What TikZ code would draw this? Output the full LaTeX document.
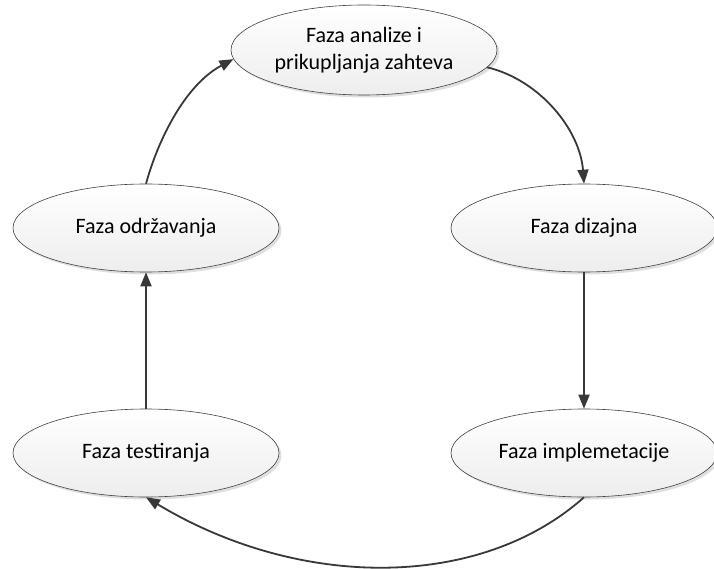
\documentclass[tikz,border=0pt]{standalone}
\usepackage{fontspec}
\setmainfont{Carlito}
\usetikzlibrary{shapes.geometric,shadows,arrows.meta}
\begin{document}
\begin{tikzpicture}[x=1pt,y=-1pt,
  phase/.style={ellipse, draw=black!75, line width=0.6pt, minimum width=266pt, minimum height=88pt,
    inner sep=0pt, top color=white, bottom color=black!7,
    drop shadow={shadow xshift=2.5pt, shadow yshift=-2.5pt, fill=black!25, opacity=0.5},
    font=\fontsize{22}{27}\selectfont, align=center},
  flow/.style={draw=black!78, line width=1.8pt, -{Triangle[length=14pt,width=11pt]}}]
\clip (0,0) rectangle (714,569);
\node[phase, minimum height=90pt] (an) at (364,50) {Faza analize i\\prikupljanja zahteva};
\node[phase] (od) at (146,228) {Faza održavanja};
\node[phase] (di) at (584,228) {Faza dizajna};
\node[phase] (te) at (146,453) {Faza testiranja};
\node[phase] (im) at (584,453) {Faza implemetacije};
\draw[flow] (od.north) .. controls (158,140) and (185,85) .. (an.184);
\draw[flow] (an.-8) .. controls (540,80) and (580,130) .. (di.north);
\draw[flow] (di.south) -- (im.north);
\draw[flow] (im.south) .. controls (480,590) and (300,590) .. (te.south);
\draw[flow] (te.north) -- (od.south);
\end{tikzpicture}
\end{document}
